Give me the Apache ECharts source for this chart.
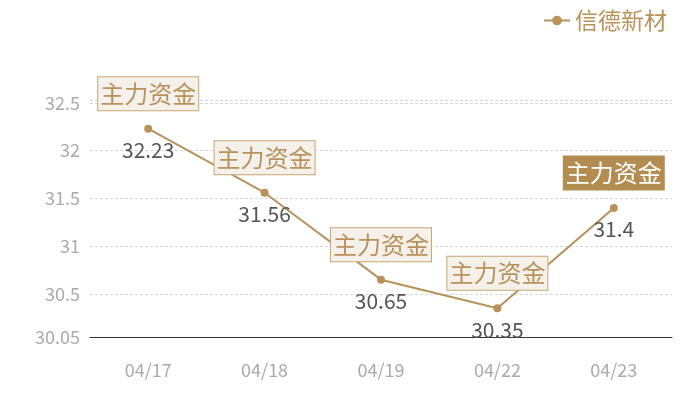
<!DOCTYPE html>
<html>
<head>
<meta charset="utf-8">
<script src="https://cdn.jsdelivr.net/npm/echarts@6/dist/echarts.min.js"></script>
<style>
  html, body { margin: 0; padding: 0; background: #fff; }
  #container { width: 700px; height: 400px; }
</style>
</head>
<body>
<div id="container"></div>
<script>
var dates = ['04/17', '04/18', '04/19', '04/22', '04/23'];
var prices = [32.23, 31.56, 30.65, 30.35, 31.4];
var seriesName = '信德新材';
var tagText = '主力资金';

var gold = '#b8925a';
var font = '"Noto Sans CJK SC", "Noto Sans", sans-serif';

var dom = document.getElementById('container');
var myChart = echarts.init(dom);

// 每个点上方的标签，最后一个高亮
var tags = dates.map(function (d, i) {
    var last = i === dates.length - 1;
    return {
        coord: [d, prices[i]],
        label: {
            backgroundColor: last ? '#b38d50' : '#f4f0ea',
            color: last ? '#fff' : gold,
            borderColor: last ? '#b38d50' : '#c9a772'
        }
    };
});

var option = {
    color: [gold],
    textStyle: { fontFamily: font },
    legend: {
        right: 28,
        top: 4,
        itemWidth: 26,
        itemHeight: 12,
        itemGap: 6,
        textStyle: { color: gold, fontSize: 23, fontFamily: font },
        data: [seriesName]
    },
    grid: {
        left: 90,
        right: 28,
        top: 100,
        bottom: 63,
        containLabel: false
    },
    xAxis: {
        type: 'category',
        data: dates,
        axisTick: { show: false },
        axisLine: { lineStyle: { color: '#333', width: 1 } },
        axisLabel: { color: '#aaa', fontSize: 18, margin: 24, fontFamily: font }
    },
    yAxis: {
        type: 'value',
        min: function (v) { return Math.round((v.min - 0.3) * 100) / 100; },
        max: function (v) { return Math.round((v.max + 0.3) * 100) / 100; },
        axisLine: { show: false },
        axisTick: { show: false },
        axisLabel: { color: '#aaa', fontSize: 18, margin: 10, showMaxLabel: false, fontFamily: font },
        splitLine: { lineStyle: { color: '#d6d6d6', type: [3, 2] } }
    },
    series: [{
        name: seriesName,
        type: 'line',
        data: prices,
        symbol: 'circle',
        symbolSize: 8,
        lineStyle: { width: 2, color: gold },
        itemStyle: { color: gold },
        label: {
            show: true,
            position: 'bottom',
            distance: 7,
            color: '#555',
            fontSize: 21,
            fontFamily: font
        },
        markPoint: {
            symbol: 'rect',
            symbolSize: 1,
            itemStyle: { color: 'rgba(0,0,0,0)' },
            label: {
                show: true,
                formatter: tagText,
                offset: [0, -35],
                fontSize: 24,
                lineHeight: 30,
                fontFamily: font,
                padding: [2, 2, 1, 2],
                borderWidth: 1
            },
            data: tags
        }
    }]
};

myChart.setOption(option, true);
</script>
</body>
</html>
